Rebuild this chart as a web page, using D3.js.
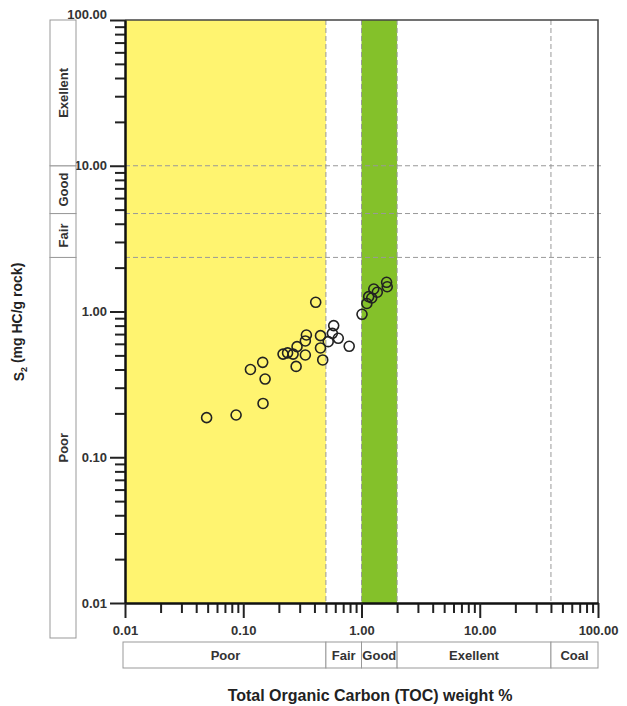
<!DOCTYPE html>
<html>
<head>
<meta charset="utf-8">
<script src="https://cdn.jsdelivr.net/npm/d3@7"></script>
<style>
    body { margin: 0; background: #fff; }
    text { font-family: "Liberation Sans", Arial, sans-serif; font-weight: bold; fill: #333; }
</style>
</head>
<body>
<div id="chart"></div>
<script>
// TOC (wt %) and S2 (mg HC/g rock)
var toc = [0.049, 0.087, 0.147, 0.153, 0.115, 0.146, 0.28, 0.217, 0.237, 0.264, 0.285,
    0.335, 0.335, 0.342, 0.45, 0.45, 0.47, 0.41, 0.523, 0.582, 0.567, 0.636, 0.787,
    1.01, 1.11, 1.15, 1.22, 1.27, 1.36, 1.63, 1.65];
var s2 = [0.187, 0.195, 0.234, 0.344, 0.40, 0.448, 0.42, 0.51, 0.52, 0.51, 0.574,
    0.503, 0.628, 0.69, 0.683, 0.562, 0.465, 1.156, 0.621, 0.80, 0.708, 0.655, 0.577,
    0.957, 1.135, 1.264, 1.238, 1.427, 1.355, 1.586, 1.479];

// classification limits
var tocClassNames = ["Poor", "Fair", "Good", "Exellent", "Coal"];
var tocClassLimits = [0.01, 0.5, 1, 2, 40, 100];
var s2ClassNames = ["Poor", "Fair", "Good", "Exellent"];
var s2ClassLimits = [0.01, 2.35, 4.7, 10, 100];

var majorTicks = [0.01, 0.1, 1, 10, 100];

var W = 627, H = 706;
var margin = {top: 20, right: 29, bottom: 103, left: 125},
    width = W - margin.left - margin.right,
    height = H - margin.top - margin.bottom;

var svg = d3.select("#chart")
    .append("svg")
    .attr("width", W)
    .attr("height", H);

var x = d3.scaleLog().domain([0.01, 100]).range([margin.left, margin.left + width]);
var y = d3.scaleLog().domain([0.01, 100]).range([margin.top + height, margin.top]);

// minor ticks 2..9 in every decade
var minorTicks = [];
majorTicks.slice(0, 4).forEach(function (d) {
    for (var k = 2; k <= 9; k++) minorTicks.push(d * k);
});

// shaded bands: Poor (yellow) and Good (green)
svg.append("rect")
    .attr("x", x(tocClassLimits[0]))
    .attr("y", y(100))
    .attr("width", x(tocClassLimits[1]) - x(tocClassLimits[0]))
    .attr("height", y(0.01) - y(100))
    .style("fill", "#fff470");
svg.append("rect")
    .attr("x", x(tocClassLimits[2]))
    .attr("y", y(100))
    .attr("width", x(tocClassLimits[3]) - x(tocClassLimits[2]))
    .attr("height", y(0.01) - y(100))
    .style("fill", "#84c12a");

// dashed class limits
svg.append("g").selectAll("line")
    .data(tocClassLimits.slice(1, 5))
    .enter().append("line")
    .attr("x1", function (d) { return x(d); })
    .attr("x2", function (d) { return x(d); })
    .attr("y1", y(100))
    .attr("y2", y(0.01))
    .style("stroke", "#999")
    .style("stroke-dasharray", "5,3");
svg.append("g").selectAll("line")
    .data(s2ClassLimits.slice(1, 4))
    .enter().append("line")
    .attr("x1", x(0.01))
    .attr("x2", x(100) + 3)
    .attr("y1", function (d) { return y(d); })
    .attr("y2", function (d) { return y(d); })
    .style("stroke", "#999")
    .style("stroke-dasharray", "5,3");

// frame (top, right)
svg.append("path")
    .attr("d", "M" + x(0.01) + "," + y(100) + "H" + x(100) + "V" + y(0.01))
    .style("fill", "none")
    .style("stroke", "#444")
    .style("stroke-width", 1.5);

// points
svg.append("g").selectAll("circle")
    .data(toc.map(function (t, i) { return {toc: t, s2: s2[i]}; }))
    .enter().append("circle")
    .attr("cx", function (d) { return x(d.toc); })
    .attr("cy", function (d) { return y(d.s2); })
    .attr("r", 5)
    .style("fill", "none")
    .style("stroke", "#222")
    .style("stroke-width", 1.6);

// axes: majors with labels, minors without
function styleAxis(g) {
    g.select(".domain").style("stroke", "#111").style("stroke-width", 2);
    g.selectAll(".tick line").style("stroke", "#222").style("stroke-width", 2);
    g.selectAll(".tick text").style("font-size", "13px").style("fill", "#333");
}

var fmt = function (d) { return d.toFixed(2); };

svg.append("g")
    .attr("transform", "translate(" + x(0.01) + ",0)")
    .call(d3.axisLeft(y).tickValues(minorTicks).tickSize(10).tickFormat("").tickSizeOuter(0))
    .call(styleAxis);
svg.append("g")
    .attr("transform", "translate(" + x(0.01) + ",0)")
    .call(d3.axisLeft(y).tickValues(majorTicks).tickSize(15).tickPadding(3).tickFormat(fmt).tickSizeOuter(0))
    .call(styleAxis)
    .selectAll(".tick text")
    .attr("dy", function (d) { return d == 100 ? "-0.1em" : "0.32em"; });

svg.append("g")
    .attr("transform", "translate(0," + y(0.01) + ")")
    .call(d3.axisBottom(x).tickValues(minorTicks).tickSize(10).tickFormat("").tickSizeOuter(0))
    .call(styleAxis);
svg.append("g")
    .attr("transform", "translate(0," + y(0.01) + ")")
    .call(d3.axisBottom(x).tickValues(majorTicks).tickSize(15).tickPadding(8).tickFormat(fmt).tickSizeOuter(0))
    .call(styleAxis);

// bottom class boxes (TOC)
var bx = svg.append("g").attr("transform", "translate(0,642)");
bx.selectAll("rect")
    .data(tocClassNames)
    .enter().append("rect")
    .attr("x", function (d, i) { return x(tocClassLimits[i]) - (i == 0 ? 2 : 0); })
    .attr("width", function (d, i) { return x(tocClassLimits[i + 1]) - x(tocClassLimits[i]) + (i == 0 ? 2 : 0); })
    .attr("height", 26)
    .style("fill", "#fff")
    .style("stroke", "#999");
bx.selectAll("text")
    .data(tocClassNames)
    .enter().append("text")
    .attr("x", function (d, i) { return (x(tocClassLimits[i]) + x(tocClassLimits[i + 1])) / 2; })
    .attr("y", 13)
    .attr("dy", "0.35em")
    .attr("text-anchor", "middle")
    .style("font-size", "13px")
    .text(function (d) { return d; });

// left class boxes (S2)
var lx = svg.append("g").attr("transform", "translate(50,0)");
lx.selectAll("rect")
    .data(s2ClassNames)
    .enter().append("rect")
    .attr("y", function (d, i) { return y(s2ClassLimits[i + 1]); })
    .attr("height", function (d, i) { return (i == 0 ? 638 : y(s2ClassLimits[i])) - y(s2ClassLimits[i + 1]); })
    .attr("width", 26)
    .style("fill", "#fff")
    .style("stroke", "#999");
lx.selectAll("text")
    .data(s2ClassNames)
    .enter().append("text")
    .attr("transform", function (d, i) {
        var y0 = i == 0 ? 638 : y(s2ClassLimits[i]);
        var yc = (y0 + y(s2ClassLimits[i + 1])) / 2;
        return "translate(13," + yc + ") rotate(-90)";
    })
    .attr("dy", "0.35em")
    .attr("text-anchor", "middle")
    .style("font-size", "13px")
    .text(function (d) { return d; });

// axis titles
svg.append("text")
    .attr("x", 370)
    .attr("y", 695)
    .attr("dy", "0.35em")
    .attr("text-anchor", "middle")
    .style("font-size", "16px")
    .style("fill", "#222")
    .text("Total Organic Carbon (TOC) weight %");

var yt = svg.append("text")
    .attr("transform", "translate(19,322) rotate(-90)")
    .attr("dy", "0.35em")
    .attr("text-anchor", "middle")
    .style("font-size", "14px")
    .style("fill", "#222");
yt.append("tspan").text("S");
yt.append("tspan").attr("dy", "0.3em").style("font-size", "9px").text("2");
yt.append("tspan").attr("dy", "-0.3em").text(" (mg HC/g rock)");
</script>
</body>
</html>
